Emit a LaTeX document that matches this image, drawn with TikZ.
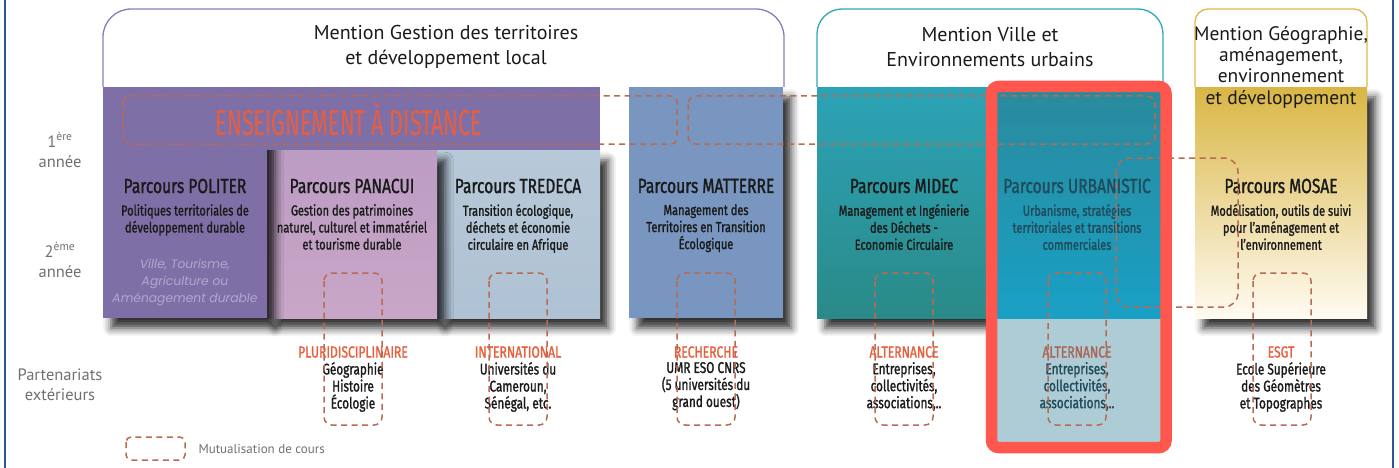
\documentclass[tikz,border=0pt]{standalone}
\usepackage{fontspec}
\usepackage{tikz}
\usetikzlibrary{positioning}
\usetikzlibrary{shadows.blur}
\setmainfont{PT Sans}
\newfontfamily\condf[FakeStretch=0.76,FakeBold=1.3]{Fira Sans}
\newfontfamily\narrowf[FakeStretch=0.6]{Fira Sans}
\newfontfamily\itf{Poppins}
\definecolor{frameBlue}{HTML}{2E5596}
\definecolor{ink}{HTML}{1A1A1A}
\definecolor{sideGray}{HTML}{707070}
\definecolor{politerPurple}{HTML}{7E70A7}
\definecolor{politerLine}{HTML}{8A7BB8}
\definecolor{lightPurple}{HTML}{B2A6CF}
\definecolor{panacuiTop}{HTML}{BC9CC3}
\definecolor{panacuiBot}{HTML}{C8A6C7}
\definecolor{tredecaTop}{HTML}{B7C9D9}
\definecolor{tredecaBot}{HTML}{AFC2D3}
\definecolor{matterreBlue}{HTML}{7896BF}
\definecolor{midecTop}{HTML}{2CA3B6}
\definecolor{midecBot}{HTML}{2A8A88}
\definecolor{urbTop}{HTML}{2A8A9C}
\definecolor{urbBot}{HTML}{19A0C5}
\definecolor{urbLight}{HTML}{AECCD5}
\definecolor{urbInk}{HTML}{1F4B5A}
\definecolor{urbTag}{HTML}{A86656}
\definecolor{mosaeTop}{HTML}{D9B644}
\definecolor{mosaeMid}{HTML}{EDD08A}
\definecolor{mosaeBot}{HTML}{FFFBF2}
\definecolor{tealLine}{HTML}{2EA6B8}
\definecolor{goldLine}{HTML}{DDB84A}
\definecolor{tagRed}{HTML}{E95E3D}
\definecolor{dashBrown}{HTML}{B86A52}
\definecolor{hiRed}{HTML}{FF564E}

\begin{document}
\begin{tikzpicture}[x=1pt,y=-1pt]

            \tikzstyle{mention} = [line width=1.3];
            \tikzstyle{box} = [anchor=north west, inner sep=0, blur shadow={shadow xshift=8pt, shadow yshift=-10pt, shadow blur radius=8pt, shadow opacity=80}];
            \tikzstyle{title} = [font=\condf\fontsize{20.5}{21}\selectfont, text=ink];
            \tikzstyle{descr} = [font=\condf\fontsize{14.5}{17}\selectfont, align=center, anchor=north, inner sep=0, text=ink];
            \tikzstyle{partner} = [font=\condf\fontsize{15.5}{17}\selectfont, align=center, inner sep=0, text=ink];
            \tikzstyle{tag} = [font=\condf\fontsize{16}{16}\selectfont, text=tagRed, inner sep=0];
            \tikzstyle{mutual} = [draw=dashBrown, dash pattern=on 6pt off 4.5pt, line width=1.5, rounded corners=8];
            \tikzstyle{side} = [font=\fontsize{16.5}{20}\selectfont, text=sideGray, align=center];

            \useasboundingbox (0,0) rectangle (1399,468);
            \draw[frameBlue, line width=2.2] (5,0) -- (5,468);
            \draw[frameBlue, line width=2.2] (1393,0) -- (1393,468);

            % mentions
            \draw[mention, draw=politerLine, rounded corners=28] (103,87) -- (103,9) -- (784,9) -- (784,87);
            \draw[mention, draw=tealLine, rounded corners=25] (817,87) -- (817,9) -- (1163,9) -- (1163,87);
            \draw[mention, draw=goldLine, rounded corners=13] (1195,87) -- (1195,9) -- (1367,9) -- (1367,87);

            % parcours boxes
            \node[box, top color=tredecaTop, bottom color=tredecaBot, minimum width=163, minimum height=168] (tredeca) at (437,150) {};
            \node[box, top color=panacuiTop, bottom color=panacuiBot, minimum width=170, minimum height=168] (panacui) at (267,150) {};
            \node[box, fill=politerPurple, minimum width=164, minimum height=231] (politer) at (103,87) {};
            \node[anchor=north west, inner sep=0, fill=politerPurple, minimum width=333, minimum height=63] (distance) at (267,87) {};
            \node[box, fill=matterreBlue, minimum width=154, minimum height=231] (matterre) at (629,87) {};
            \node[box, shade, top color=mosaeTop, middle color=mosaeMid, bottom color=mosaeBot, minimum width=172, minimum height=231] (mosae) at (1195,87) {};
            \node[box, top color=midecTop, bottom color=midecBot, minimum width=176, minimum height=231] (midec) at (817,87) {};
            \node[anchor=north west, inner sep=0, fill=urbLight, minimum width=168, minimum height=125] (urbLow) at (993,318) {};
            \node[anchor=north west, inner sep=0, top color=urbTop, bottom color=urbBot, minimum width=168, minimum height=231] (urbanistic) at (993,87) {};

            % headers
            \node[align=center, font=\fontsize{20}{25}\selectfont, text=ink] (mGestion) at (446,47) {Mention Gestion des territoires\\et développement local};
            \node[align=center, font=\fontsize{20}{25}\selectfont, text=ink] (mVille) at (990,47) {Mention Ville et\\Environnements urbains};
            \node[align=center, font=\fontsize{19.5}{21.3}\selectfont, text=ink] (mGeo) at (1281,67) {Mention Géographie,\\aménagement,\\environnement\\et développement};

            \node[side] (an1) at (60,150) {1\textsuperscript{ère}\\année};
            \node[side] (an2) at (60,260) {2\textsuperscript{ème}\\année};
            \node[side] (ext) at (60,385) {Partenariats\\extérieurs};

            \node[font=\narrowf\fontsize{36}{36}\selectfont, text=tagRed] (ead) at (349,119) {ENSEIGNEMENT À DISTANCE};

            % titles and descriptions
            \node[title] (politerT) at (185,186) {Parcours POLITER};
            \node[descr] (politerD) at (185,204) {Politiques territoriales de\\développement durable};
            \node[font=\itf\itshape\fontsize{12.3}{17}\selectfont, text=lightPurple, align=center] (politerV) at (185,282) {Ville, Tourisme,\\Agriculture ou\\Aménagement durable};

            \node[title] (panacuiT) at (352,186) {Parcours PANACUI};
            \node[descr] (panacuiD) at (352,204) {Gestion des patrimoines\\naturel, culturel et immatériel\\et tourisme durable};

            \node[title] (tredecaT) at (518,186) {Parcours TREDECA};
            \node[descr] (tredecaD) at (518,204) {Transition écologique,\\déchets et économie\\circulaire en Afrique};

            \node[title] (matterreT) at (706,186) {Parcours MATTERRE};
            \node[descr] (matterreD) at (706,204) {Management des\\Territoires en Transition\\Écologique};

            \node[title] (midecT) at (904,186) {Parcours MIDEC};
            \node[descr] (midecD) at (904,204) {Management et Ingénierie\\des Déchets -\\Economie Circulaire};

            \node[title, text=urbInk] (urbanisticT) at (1077,186) {Parcours URBANISTIC};
            \node[descr, text=urbInk] (urbanisticD) at (1077,204) {Urbanisme, stratégies\\territoriales et transitions\\commerciales};

            \node[title] (mosaeT) at (1281,186) {Parcours MOSAE};
            \node[descr] (mosaeD) at (1281,204) {Modélisation, outils de suivi\\pour l’aménagement et\\l’environnement};

            % partenariats
            \node[tag] (pluri) at (353,352) {PLURIDISCIPLINAIRE};
            \node[partner, below=4pt of pluri] (pluriD) {Géographie\\Histoire\\Écologie};
            \node[tag] (inter) at (518,352) {INTERNATIONAL};
            \node[partner, below=4pt of inter] (interD) {Universités du\\Cameroun,\\Sénégal, etc.};
            \node[tag] (rech) at (706,352) {RECHERCHE};
            \node[partner, below=4pt of rech] (rechD) {UMR ESO CNRS\\(5 universités du\\grand ouest)};
            \node[tag] (altMidec) at (904,352) {ALTERNANCE};
            \node[partner, below=4pt of altMidec] (altMidecD) {Entreprises,\\collectivités,\\associations,..};
            \node[tag, text=urbTag] (altUrb) at (1077,352) {ALTERNANCE};
            \node[partner, text=urbInk, below=4pt of altUrb] (altUrbD) {Entreprises,\\collectivités,\\associations,..};
            \node[tag] (esgt) at (1281,352) {ESGT};
            \node[partner, below=4pt of esgt] (esgtD) {Ecole Supérieure\\des Géomètres\\et Topographes};

            % mutualisation
            \draw[mutual, rounded corners=6] (123,96) rectangle (677,144);
            \draw[mutual] (688,96) rectangle (1155,144);
            \draw[mutual, rounded corners=14] (1116,158) rectangle (1238,307);
            \foreach \xl in {324,489,677,875,1048,1253}
              \draw[mutual] (\xl,273) rectangle ++(58,152);

            \draw[mutual, rounded corners=5] (126,437) rectangle (185,460);
            \node[anchor=west, font=\fontsize{13}{13}\selectfont, text=sideGray] (legend) at (195,449) {Mutualisation de cours};

            \draw[hiRed, line width=11.5, rounded corners=7] (991.5,86.5) rectangle (1166,447.5);
          \end{tikzpicture}
\end{document}
